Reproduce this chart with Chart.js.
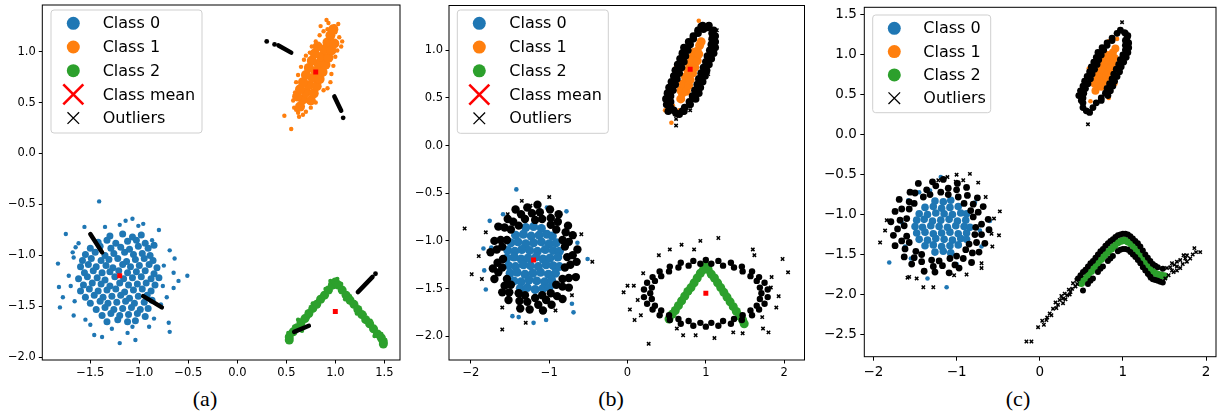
<!DOCTYPE html>
<html>
<head>
<meta charset="utf-8">
<script src="https://cdn.jsdelivr.net/npm/chart.js@4.4.1/dist/chart.umd.min.js"></script>
<style>
  body { margin: 0; background: #fff; width: 1225px; height: 416px; position: relative; overflow: hidden; }
  canvas { position: absolute; top: 0; }
  .cap { position: absolute; top: 388px; font: 22px "Liberation Serif", serif; line-height: 22px; transform: translateX(-50%); color: #000; }
</style>
</head>
<body>
<canvas id="panelA" width="405" height="382" style="left:0px"></canvas>
<canvas id="panelB" width="410" height="382" style="left:400px"></canvas>
<canvas id="panelC" width="415" height="382" style="left:810px"></canvas>
<div class="cap" style="left:205px">(a)</div>
<div class="cap" style="left:611px">(b)</div>
<div class="cap" style="left:1018px">(c)</div>
<script>
// colours and legend text
const classColors = ['#1f77b4', '#ff7f0e', '#2ca02c'];
const meanColor = '#ff0000';
const outlierColor = '#000000';
const legendLabelsAB = ['Class 0', 'Class 1', 'Class 2', 'Class mean', 'Outliers'];
const legendLabelsC = ['Class 0', 'Class 1', 'Class 2', 'Outliers'];

// axis ranges and ticks
const aXRange = [-1.99, 1.66], aYRange = [-2.026, 1.457];
const aXTicks = [-1.5, -1.0, -0.5, 0.0, 0.5, 1.0, 1.5];
const aYTicks = [-2.0, -1.5, -1.0, -0.5, 0.0, 0.5, 1.0];
const bXRange = [-2.28, 2.26], bYRange = [-2.25, 1.47];
const bXTicks = [-2, -1, 0, 1, 2];
const bYTicks = [-2.0, -1.5, -1.0, -0.5, 0.0, 0.5, 1.0];
const cXRange = [-2.11, 2.12], cYRange = [-2.78, 1.596];
const cXTicks = [-2, -1, 0, 1, 2];
const cYTicks = [-2.5, -2.0, -1.5, -1.0, -0.5, 0.0, 0.5, 1.0, 1.5];

// ---------- panel (a) ----------
const aBlueCore = [
  [-1.30,-0.81],[-1.17,-0.79],[-1.07,-0.82],[-0.98,-0.80],
  [-1.42,-0.87],[-1.33,-0.85],[-1.24,-0.88],[-1.12,-0.86],[-1.03,-0.85],[-0.94,-0.88],
  [-1.50,-0.93],[-1.40,-0.91],[-1.29,-0.93],[-1.19,-0.92],[-1.10,-0.94],[-1.01,-0.91],[-0.91,-0.93],[-0.85,-0.90],
  [-1.55,-0.99],[-1.45,-0.97],[-1.35,-1.00],[-1.26,-0.98],[-1.15,-0.97],[-1.06,-0.99],[-0.97,-0.98],[-0.89,-1.00],
  [-1.58,-1.05],[-1.49,-1.03],[-1.39,-1.05],[-1.31,-1.04],[-1.22,-1.03],[-1.13,-1.06],[-1.04,-1.04],[-0.95,-1.03],[-0.86,-1.05],
  [-1.60,-1.11],[-1.52,-1.09],[-1.44,-1.11],[-1.34,-1.10],[-1.27,-1.12],[-1.17,-1.09],[-1.09,-1.11],[-1.00,-1.10],[-0.90,-1.09],[-0.82,-1.12],
  [-1.56,-1.17],[-1.47,-1.15],[-1.38,-1.17],[-1.30,-1.16],[-1.21,-1.15],[-1.12,-1.17],[-1.03,-1.16],[-0.94,-1.15],[-0.85,-1.18],
  [-1.62,-1.23],[-1.53,-1.21],[-1.43,-1.22],[-1.35,-1.24],[-1.25,-1.21],[-1.16,-1.23],[-1.07,-1.22],[-0.98,-1.21],[-0.88,-1.23],[-0.80,-1.22],
  [-1.57,-1.29],[-1.48,-1.27],[-1.39,-1.28],[-1.30,-1.30],[-1.20,-1.27],[-1.11,-1.29],[-1.02,-1.28],[-0.93,-1.27],[-0.84,-1.29],
  [-1.60,-1.35],[-1.51,-1.33],[-1.42,-1.35],[-1.33,-1.34],[-1.24,-1.33],[-1.15,-1.36],[-1.06,-1.34],[-0.97,-1.33],[-0.88,-1.35],
  [-1.55,-1.41],[-1.46,-1.39],[-1.37,-1.41],[-1.28,-1.40],[-1.19,-1.39],[-1.10,-1.42],[-1.01,-1.40],[-0.92,-1.39],
  [-1.50,-1.47],[-1.40,-1.45],[-1.32,-1.47],[-1.23,-1.46],[-1.14,-1.45],[-1.05,-1.47],[-0.95,-1.46],[-0.87,-1.44],
  [-1.44,-1.53],[-1.35,-1.51],[-1.26,-1.53],[-1.17,-1.52],[-1.08,-1.51],[-0.99,-1.53],[-0.91,-1.52],
  [-1.38,-1.59],[-1.29,-1.57],[-1.20,-1.59],[-1.11,-1.58],[-1.02,-1.57],[-0.94,-1.60],
  [-1.33,-1.65],[-1.22,-1.63],[-1.12,-1.65],[-1.04,-1.64]
];
const aBlueSpread = [
  [-1.41,-0.47],[-1.75,-0.79],[-1.56,-0.72],[-1.83,-1.08],[-1.82,-1.31],[-1.81,-1.51],[-1.67,-1.59],[-1.46,-1.78],
  [-1.38,-1.80],[-1.20,-1.86],[-1.04,-1.83],[-1.07,-1.70],[-0.70,-1.66],[-0.69,-1.75],[-0.51,-1.20],[-0.60,-1.25],
  [-0.65,-1.32],[-0.65,-1.17],[-0.69,-0.95],[-0.87,-0.85],[-0.96,-0.69],[-1.07,-0.64],[-1.14,-0.66],[-1.20,-0.70],
  [-1.01,-0.71],[-1.67,-1.02],[-1.65,-0.92],[-1.68,-0.97],[-1.78,-1.41],[-1.70,-1.30],[-0.80,-0.75],[-0.72,-1.41],
  [-0.64,-1.03],[-1.72,-1.20],[-1.66,-1.45],[-1.55,-1.63],[-1.28,-1.72],[-0.85,-1.62],[-0.78,-1.48],[-0.75,-1.10],
  [-0.76,-1.30],[-1.62,-0.88],[-1.35,-0.72],[-1.50,-1.68],[-0.90,-1.70],[-1.12,-1.76]
];
const aOrangeCore = [
  [0.64,0.46],[0.67,0.53],[0.70,0.60],[0.73,0.67],[0.77,0.74],[0.80,0.81],[0.83,0.88],[0.86,0.95],[0.89,1.02],[0.92,1.09],[0.95,1.16],[0.98,1.22],
  [0.61,0.56],[0.64,0.63],[0.67,0.70],[0.70,0.77],[0.73,0.84],[0.76,0.91],[0.79,0.98],[0.82,1.05],
  [0.75,0.52],[0.78,0.59],[0.81,0.66],[0.84,0.73],[0.87,0.80],[0.90,0.87],[0.93,0.94],[0.96,1.01],[0.99,1.08]
];
const aOrangeSpread = [
  [0.91,1.31],[0.93,1.28],[0.99,1.25],[0.97,1.23],[1.00,1.19],[1.07,1.10],[1.04,1.14],[1.02,1.01],[1.00,0.95],[0.98,0.86],
  [0.96,0.78],[0.92,0.64],[0.88,0.62],[0.80,0.50],[0.75,0.45],[0.70,0.41],[0.67,0.38],[0.62,0.40],[0.58,0.45],[0.57,0.52],
  [0.59,0.60],[0.60,0.70],[0.62,0.77],[0.65,0.85],[0.68,0.92],[0.70,0.96],[0.74,0.99],[0.76,1.05],[0.80,1.10],[0.84,1.16],
  [0.88,1.20],[0.48,0.37],[0.55,0.24],[0.63,0.36],[0.92,1.22],[1.06,1.05],[0.95,0.70],[0.60,0.43],[0.85,1.25],[1.03,1.27]
];
const aGreenBand = [
  [0.53,-1.83],[0.53,-1.80],[0.57,-1.75],[0.61,-1.71],[0.65,-1.66],[0.69,-1.62],[0.73,-1.57],[0.77,-1.52],[0.81,-1.48],
  [0.85,-1.43],[0.89,-1.39],[0.93,-1.34],[0.97,-1.29],[1.00,-1.26],
  [1.03,-1.29],[1.07,-1.34],[1.11,-1.39],[1.15,-1.44],[1.19,-1.48],[1.23,-1.53],[1.27,-1.58],[1.31,-1.63],[1.35,-1.67],
  [1.39,-1.72],[1.43,-1.77],[1.47,-1.81],[1.49,-1.85],[1.49,-1.87]
];
const aGreenSpread = [
  [0.62,-1.63],[0.77,-1.47],[0.66,-1.74],[0.90,-1.33],[1.06,-1.28],[1.15,-1.40],[1.30,-1.58],[1.40,-1.79],[0.95,-1.25],[1.02,-1.23],
  [0.58,-1.70],[1.22,-1.57],[1.47,-1.77],[0.52,-1.76],[1.51,-1.83],[0.86,-1.40],[1.10,-1.43],[0.72,-1.61],[1.36,-1.64],[0.98,-1.31]
];
const aOutlierStrokes = [
  [[-1.50,-0.79],[-1.38,-0.97]],
  [[-0.96,-1.40],[-0.77,-1.51]],
  [[0.42,1.06],[0.55,0.99]],
  [[0.99,0.56],[1.06,0.42]],
  [[1.23,-1.36],[1.38,-1.21]],
  [[0.58,-1.75],[0.73,-1.69]]
];
const aOutlierDots = [[0.30,1.10],[0.38,1.07],[1.08,0.35],[1.41,-1.18]];
const aMeans = [[-1.2,-1.2],[0.8,0.8],[1.0,-1.55]];

// ---------- panel (b) ----------
const bBlueCore = [
  [-1.30,-0.86],[-1.20,-0.85],[-1.10,-0.87],
  [-1.43,-0.94],[-1.33,-0.93],[-1.23,-0.95],[-1.13,-0.94],[-1.03,-0.93],[-0.96,-0.95],
  [-1.49,-1.02],[-1.40,-1.01],[-1.30,-1.03],[-1.20,-1.02],[-1.10,-1.01],[-1.00,-1.03],[-0.91,-1.02],
  [-1.53,-1.10],[-1.44,-1.11],[-1.35,-1.09],[-1.25,-1.10],[-1.15,-1.11],[-1.05,-1.09],[-0.95,-1.10],[-0.87,-1.11],
  [-1.54,-1.18],[-1.45,-1.17],[-1.36,-1.19],[-1.27,-1.18],[-1.17,-1.17],[-1.08,-1.19],[-0.99,-1.18],[-0.89,-1.17],
  [-1.52,-1.26],[-1.43,-1.27],[-1.33,-1.25],[-1.24,-1.26],[-1.14,-1.27],[-1.04,-1.25],[-0.95,-1.26],[-0.87,-1.27],
  [-1.50,-1.34],[-1.41,-1.33],[-1.31,-1.35],[-1.21,-1.34],[-1.11,-1.33],[-1.01,-1.35],[-0.92,-1.34],
  [-1.45,-1.42],[-1.36,-1.43],[-1.26,-1.41],[-1.16,-1.42],[-1.06,-1.43],[-0.97,-1.41],
  [-1.37,-1.50],[-1.28,-1.49],[-1.18,-1.51],[-1.08,-1.50],[-1.00,-1.49]
];
const bBlueSpread = [
  [-1.42,-0.46],[-1.76,-0.79],[-1.84,-1.08],[-1.83,-1.31],[-1.81,-1.51],[-1.47,-1.79],[-1.39,-1.80],[-1.20,-1.86],
  [-1.04,-1.83],[-0.69,-1.75],[-0.71,-1.66],[-0.51,-1.19],[-0.64,-1.02],[-0.78,-0.69],[-1.03,-0.65],[-1.59,-0.72],[-1.74,-1.07]
];
const bBlueRing = [
  [-0.77,-1.17],[-0.80,-1.06],[-0.83,-0.99],[-0.91,-0.88],[-0.98,-0.83],[-1.09,-0.77],[-1.18,-0.78],[-1.31,-0.77],
  [-1.39,-0.84],[-1.49,-0.88],[-1.54,-0.99],[-1.60,-1.06],[-1.59,-1.19],[-1.60,-1.28],[-1.54,-1.40],[-1.49,-1.46],
  [-1.39,-1.55],[-1.31,-1.57],[-1.18,-1.60],[-1.09,-1.57],[-0.98,-1.55],[-0.91,-1.46],[-0.83,-1.40],[-0.80,-1.28],
  [-0.70,-1.15],[-0.75,-1.01],[-0.79,-0.91],[-0.89,-0.80],[-0.98,-0.76],[-1.12,-0.70],[-1.22,-0.71],[-1.36,-0.72],
  [-1.46,-0.80],[-1.57,-0.86],[-1.62,-0.99],[-1.67,-1.09],[-1.66,-1.23],[-1.65,-1.33],[-1.57,-1.47],[-1.51,-1.54],
  [-1.38,-1.63],[-1.28,-1.64],[-1.14,-1.67],[-1.04,-1.62],[-0.90,-1.58],[-0.83,-1.48],[-0.75,-1.39],[-0.73,-1.25],
  [-0.64,-1.09],[-0.70,-0.94],[-0.76,-0.84],[-0.88,-0.72],[-0.99,-0.67],[-1.15,-0.62],[-1.28,-0.65],[-1.43,-0.67],
  [-1.53,-0.77],[-1.65,-0.85],[-1.70,-1.00],[-1.75,-1.12],[-1.72,-1.29],[-1.70,-1.40],[-1.60,-1.54],[-1.52,-1.62],
  [-1.37,-1.71],[-1.25,-1.72],[-1.08,-1.73],[-0.97,-1.67],[-0.83,-1.61],[-0.75,-1.49],[-0.66,-1.38],[-0.65,-1.22]
];
const bOrangeCore = [
  [0.68,0.49],[0.70,0.55],[0.73,0.61],[0.75,0.67],[0.78,0.74],[0.81,0.80],[0.84,0.87],[0.86,0.93],[0.89,0.99],[0.92,1.05],[0.94,1.09],
  [0.68,0.58],[0.71,0.65],[0.74,0.72],[0.77,0.79],[0.79,0.86],[0.82,0.92],[0.85,0.98],
  [0.75,0.57],[0.78,0.63],[0.80,0.69],[0.83,0.76],[0.86,0.82],[0.89,0.89],[0.91,0.96]
];
const bOrangeSpread = [
  [0.91,1.31],[1.08,1.10],[0.92,0.65],[0.48,0.37],[0.56,0.24],[0.66,0.37],[0.62,0.83],[0.63,0.77],[1.10,1.18],[0.58,0.42]
];
const bOrangeRing = [
  [0.55,0.40],[0.73,0.40],[0.55,0.46],[0.79,0.46],[0.55,0.52],[0.83,0.52],[0.58,0.58],[0.86,0.58],[0.61,0.64],[0.89,0.64],
  [0.63,0.70],[0.91,0.70],[0.66,0.76],[0.94,0.76],[0.69,0.82],[0.97,0.82],[0.72,0.88],[1.00,0.88],[0.74,0.94],[1.02,0.94],
  [0.77,1.00],[1.05,1.00],[0.80,1.06],[1.07,1.06],[0.84,1.12],[1.08,1.12],[0.90,1.18],[1.08,1.18],
  [0.52,0.36],[0.72,0.36],[0.50,0.43],[0.80,0.43],[0.49,0.49],[0.87,0.49],[0.51,0.55],[0.91,0.55],[0.53,0.61],[0.93,0.61],
  [0.56,0.67],[0.96,0.67],[0.59,0.73],[0.99,0.73],[0.61,0.79],[1.01,0.79],[0.64,0.85],[1.04,0.85],[0.67,0.91],[1.07,0.91],
  [0.70,0.97],[1.10,0.97],[0.72,1.03],[1.12,1.03],[0.78,1.09],[1.12,1.09],[0.84,1.15],[1.12,1.15],[0.90,1.21],[1.10,1.21],
  [0.96,1.26],[1.04,1.26],[0.97,1.22],[1.02,1.24],[0.94,1.25],[0.62,0.34],[0.66,0.33],[0.59,0.37],[0.70,0.36]
];
const bGreenBand = [
  [0.53,-1.82],[0.57,-1.77],[0.61,-1.73],[0.65,-1.68],[0.69,-1.63],[0.73,-1.58],[0.77,-1.53],[0.81,-1.49],[0.85,-1.44],
  [0.89,-1.39],[0.93,-1.34],[0.97,-1.30],[1.00,-1.26],
  [1.03,-1.30],[1.07,-1.35],[1.11,-1.39],[1.15,-1.44],[1.19,-1.49],[1.23,-1.54],[1.27,-1.59],[1.31,-1.64],[1.35,-1.69],
  [1.39,-1.74],[1.43,-1.79],[1.47,-1.83],[1.49,-1.87]
];
const bGreenRing = [
  [1.71,-1.55],[1.69,-1.49],[1.65,-1.42],[1.57,-1.37],[1.47,-1.32],[1.36,-1.28],[1.22,-1.26],[1.07,-1.24],[0.93,-1.24],
  [0.78,-1.26],[0.65,-1.28],[0.53,-1.32],[0.43,-1.37],[0.35,-1.42],[0.31,-1.49],[0.29,-1.55],[0.31,-1.61],[0.35,-1.68],
  [0.43,-1.73],[0.53,-1.78],[0.65,-1.82],[0.78,-1.84],[0.93,-1.86],[1.07,-1.86],[1.22,-1.84],[1.36,-1.82],[1.47,-1.78],
  [1.57,-1.73],[1.65,-1.68],[1.69,-1.61],
  [1.79,-1.51],[1.75,-1.44],[1.68,-1.38],[1.59,-1.32],[1.46,-1.27],[1.32,-1.23],[1.16,-1.21],[1.00,-1.20],[0.84,-1.21],
  [0.68,-1.23],[0.54,-1.27],[0.41,-1.32],[0.32,-1.38],[0.25,-1.44],[0.21,-1.51],[0.21,-1.59],[0.25,-1.66],[0.32,-1.72],
  [0.41,-1.78],[0.54,-1.83],[0.68,-1.87],[0.84,-1.89],[1.00,-1.90],[1.16,-1.89],[1.32,-1.87],[1.46,-1.83],[1.59,-1.78],
  [1.68,-1.72],[1.75,-1.66],[1.79,-1.59]
];
const bOutlierSpread = [
  [-2.08,-0.87],[-1.99,-1.35],[-1.60,-1.93],[-1.00,-0.54],[-0.45,-1.22],[-1.86,-1.40],[-1.90,-1.16],[-1.81,-0.91],
  [-0.59,-0.93],[-0.71,-1.57],[-1.30,-1.86],[-1.60,-1.70],[-0.92,-1.73],[-1.24,-0.63],[-1.35,-0.58],[-1.53,-0.72],
  [0.93,-1.00],[1.16,-0.97],[0.69,-1.04],[0.54,-1.09],[0.85,-1.09],[1.60,-1.09],[1.98,-1.19],[2.05,-1.33],[1.84,-1.38],
  [1.93,-1.58],[1.83,-1.49],[1.72,-1.80],[1.80,-1.96],[1.73,-1.92],[0.27,-2.08],[0.09,-1.83],[0.03,-1.72],[-0.05,-1.54],
  [0.00,-1.47],[0.08,-1.47],[0.20,-1.34],[0.17,-1.78],[1.11,-2.02],[0.87,-1.99],[0.71,-1.99],[1.47,-1.97],[0.63,-1.92],
  [1.35,-1.96],[0.13,-1.62],[1.90,-1.70],[1.62,-1.15],[0.40,-1.15],
  [0.62,0.28],[0.62,0.21],[1.14,1.21],[1.06,1.10],[1.03,0.75],[0.80,0.37],[0.72,0.35]
];
const bMeans = [[-1.2,-1.2],[0.8,0.8],[1.0,-1.55]];

// ---------- panel (c) ----------
const cBlueCore = [
  [-1.26,-0.83],[-1.16,-0.84],[-1.07,-0.82],
  [-1.38,-0.91],[-1.28,-0.90],[-1.18,-0.92],[-1.08,-0.91],[-0.98,-0.90],
  [-1.45,-0.99],[-1.35,-1.00],[-1.25,-0.98],[-1.15,-0.99],[-1.05,-1.00],[-0.95,-0.98],[-0.88,-0.99],
  [-1.48,-1.07],[-1.39,-1.06],[-1.29,-1.08],[-1.19,-1.07],[-1.09,-1.06],[-0.99,-1.08],[-0.89,-1.07],
  [-1.50,-1.15],[-1.41,-1.16],[-1.31,-1.14],[-1.21,-1.15],[-1.11,-1.16],[-1.01,-1.14],[-0.91,-1.15],[-0.84,-1.16],
  [-1.48,-1.23],[-1.38,-1.22],[-1.28,-1.24],[-1.18,-1.23],[-1.08,-1.22],[-0.98,-1.24],[-0.88,-1.23],
  [-1.45,-1.31],[-1.35,-1.32],[-1.25,-1.30],[-1.15,-1.31],[-1.05,-1.32],[-0.95,-1.30],[-0.88,-1.31],
  [-1.38,-1.39],[-1.28,-1.38],[-1.18,-1.40],[-1.08,-1.39],[-0.98,-1.38],
  [-1.26,-1.47],[-1.16,-1.46],[-1.07,-1.48]
];
const cBlueSpread = [
  [-1.81,-1.60],[-1.19,-0.53],[-1.35,-1.80],[-0.60,-1.08],[-1.12,-1.91],[-1.45,-0.72],[-1.58,-0.82],[-0.72,-1.20],
  [-1.62,-1.40],[-0.78,-0.85],[-1.55,-1.55],[-1.00,-1.62],[-1.32,-0.70],[-1.66,-1.10],[-0.70,-1.40]
];
const cBlueRing = [
  [-0.77,-1.16],[-0.80,-1.03],[-0.83,-0.95],[-0.91,-0.86],[-0.98,-0.78],[-1.10,-0.75],[-1.19,-0.72],[-1.32,-0.75],
  [-1.40,-0.78],[-1.51,-0.86],[-1.57,-0.93],[-1.60,-1.05],[-1.63,-1.14],[-1.60,-1.27],[-1.57,-1.35],[-1.49,-1.46],
  [-1.42,-1.50],[-1.30,-1.57],[-1.21,-1.58],[-1.08,-1.55],[-1.00,-1.52],[-0.89,-1.44],[-0.85,-1.37],[-0.78,-1.25],
  [-0.70,-1.12],[-0.74,-0.97],[-0.80,-0.87],[-0.87,-0.76],[-1.00,-0.69],[-1.10,-0.67],[-1.25,-0.64],[-1.36,-0.69],
  [-1.50,-0.73],[-1.57,-0.84],[-1.66,-0.93],[-1.68,-1.07],[-1.71,-1.18],[-1.66,-1.33],[-1.62,-1.43],[-1.51,-1.54],
  [-1.42,-1.59],[-1.28,-1.65],[-1.17,-1.64],[-1.02,-1.63],[-0.92,-1.55],[-0.81,-1.48],[-0.76,-1.35],[-0.70,-1.25],
  [-0.62,-1.06],[-0.68,-0.90],[-0.75,-0.79],[-0.88,-0.66],[-0.99,-0.61],[-1.16,-0.56],[-1.29,-0.59],[-1.46,-0.61],
  [-1.56,-0.72],[-1.69,-0.81],[-1.74,-0.96],[-1.79,-1.09],[-1.76,-1.26],[-1.74,-1.39],[-1.63,-1.53],[-1.54,-1.62],
  [-1.39,-1.71],[-1.26,-1.72],[-1.09,-1.73],[-0.97,-1.67],[-0.82,-1.60],[-0.73,-1.47],[-0.66,-1.36],[-0.61,-1.19]
];
const cOrangeCore = [
  [0.67,0.55],[0.70,0.61],[0.72,0.67],[0.75,0.73],[0.78,0.79],[0.80,0.85],[0.83,0.91],[0.86,0.97],[0.88,1.03],[0.91,1.08],
  [0.66,0.64],[0.69,0.70],[0.71,0.76],[0.74,0.82],[0.77,0.88],[0.79,0.94],[0.82,1.00],
  [0.74,0.60],[0.77,0.66],[0.80,0.72],[0.82,0.78],[0.85,0.84],[0.88,0.90],[0.90,0.96]
];
const cOrangeSpread = [
  [0.83,1.17],[1.05,1.08],[0.59,0.83],[0.91,0.64],[0.83,0.46],[0.61,0.42],[0.93,1.20],[0.55,0.60]
];
const cOrangeRing = [
  [0.52,0.40],[0.68,0.40],[0.52,0.46],[0.74,0.46],[0.53,0.52],[0.79,0.52],[0.55,0.58],[0.81,0.58],[0.58,0.64],[0.84,0.64],
  [0.61,0.70],[0.87,0.70],[0.63,0.76],[0.89,0.76],[0.66,0.82],[0.92,0.82],[0.69,0.88],[0.95,0.88],[0.71,0.94],[0.97,0.94],
  [0.74,1.00],[1.00,1.00],[0.77,1.06],[1.03,1.06],[0.81,1.12],[1.03,1.12],[0.87,1.18],[1.03,1.18],
  [0.52,0.34],[0.64,0.34],[0.50,0.43],[0.74,0.43],[0.47,0.49],[0.82,0.49],[0.49,0.55],[0.85,0.55],[0.52,0.61],[0.88,0.61],
  [0.54,0.67],[0.90,0.67],[0.57,0.73],[0.93,0.73],[0.60,0.79],[0.96,0.79],[0.62,0.85],[0.98,0.85],[0.65,0.91],[1.01,0.91],
  [0.68,0.97],[1.04,0.97],[0.70,1.03],[1.06,1.03],[0.75,1.09],[1.07,1.09],[0.81,1.15],[1.07,1.15],[0.87,1.21],[1.05,1.21],
  [0.93,1.27],[1.03,1.27],[0.97,1.31],[1.02,1.28],[1.06,1.24],[0.56,0.30],[0.60,0.28]
];
const cGreenBand = [
  [0.50,-1.86],[0.54,-1.81],[0.58,-1.76],[0.62,-1.71],[0.66,-1.66],[0.70,-1.61],[0.74,-1.56],[0.78,-1.51],[0.82,-1.47],
  [0.86,-1.43],[0.90,-1.39],[0.94,-1.35],[0.98,-1.33],[1.02,-1.32],[1.06,-1.34],[1.10,-1.37],[1.14,-1.42],[1.18,-1.47],
  [1.22,-1.53],[1.26,-1.59],[1.30,-1.65],[1.34,-1.70],[1.38,-1.73],[1.42,-1.75],[1.46,-1.76],[1.50,-1.77]
];
const cGreenEdge = [
  [0.46,-1.80],[0.49,-1.76],[0.52,-1.72],[0.55,-1.69],[0.58,-1.65],[0.61,-1.61],[0.64,-1.58],[0.67,-1.54],[0.70,-1.50],
  [0.73,-1.46],[0.76,-1.43],[0.79,-1.39],[0.82,-1.36],[0.85,-1.33],[0.88,-1.31],[0.91,-1.28],[0.94,-1.26],[0.97,-1.25],
  [1.00,-1.24],[1.03,-1.24],[1.06,-1.25],[1.09,-1.27],[1.12,-1.30],[1.15,-1.33],[1.18,-1.36],[1.21,-1.40],[1.24,-1.45],
  [1.27,-1.50],[1.30,-1.54],[1.33,-1.58],[1.36,-1.62],[1.39,-1.64],[1.42,-1.66],[1.48,-1.68],
  [0.52,-1.95],[0.58,-1.87],[0.61,-1.83],[0.64,-1.80],[0.70,-1.72],[0.73,-1.68],[0.76,-1.65],[0.82,-1.58],[0.85,-1.55],
  [0.88,-1.52],[0.94,-1.46],[0.97,-1.44],[1.00,-1.43],[1.03,-1.43],[1.06,-1.44],[1.09,-1.47],[1.12,-1.50],[1.15,-1.53],
  [1.18,-1.57],[1.21,-1.61],[1.24,-1.66],[1.27,-1.70],[1.30,-1.74],[1.33,-1.78],[1.36,-1.81],[1.39,-1.82],[1.42,-1.83],
  [1.45,-1.84],[1.48,-1.85]
];
const cOutlierSpread = [
  [-1.84,-1.07],[-1.92,-1.35],[-0.48,-0.96],[-0.49,-1.26],[-1.00,-0.50],[-0.84,-0.49],[-0.74,-0.60],[-1.28,-1.91],
  [-1.40,-1.91],[-1.57,-1.78],[-0.70,-1.67],[-1.03,-1.76],[-0.58,-1.24],[-0.70,-1.61],[-1.59,-1.79],[-0.57,-1.40],
  [-1.01,-0.59],[-0.92,-0.57],[-1.22,-0.57],[-1.11,-0.53],[-0.55,-1.05],[-1.86,-1.20],[-0.65,-0.78],[-1.48,-1.80],[-0.88,-1.75],
  [0.99,1.41],[0.58,0.13],
  [-0.16,-2.59],[-0.10,-2.59],[-0.02,-2.41],[0.05,-2.38],[0.08,-2.32],[0.14,-2.26],[0.16,-2.18],[0.22,-2.13],[0.24,-2.07],
  [0.28,-2.05],[0.33,-2.01],[0.39,-1.93],[0.37,-1.97],[0.43,-1.90],[0.28,-2.11],[0.20,-2.17],[0.12,-2.24],[0.40,-1.86],
  [0.44,-1.82],[0.50,-1.76],[0.54,-1.71],[0.03,-2.33],[0.09,-2.29],[0.30,-1.99],[0.35,-1.94],[0.26,-2.02],[0.19,-2.10],
  [0.31,-2.06],[0.45,-1.87],[0.36,-2.00],
  [1.53,-1.67],[1.59,-1.61],[1.65,-1.59],[1.69,-1.57],[1.73,-1.51],[1.77,-1.51],[1.86,-1.42],[1.93,-1.47],[1.88,-1.47],
  [1.61,-1.72],[1.55,-1.76],[1.65,-1.70],[1.69,-1.67],[1.77,-1.59],[1.81,-1.55],[1.65,-1.65],[1.59,-1.70],[1.51,-1.80],
  [1.33,-1.80],[1.31,-1.76],[1.57,-1.66],[1.62,-1.63],[1.72,-1.62],[1.75,-1.55],[1.84,-1.50]
];

// ---------- helpers ----------
const pts = arr => arr.map(p => ({ x: p[0], y: p[1] }));

function dots(arr, color, r, order = 3) {
  return { data: pts(arr), backgroundColor: color, borderColor: color, borderWidth: 0, pointRadius: r, order: order };
}
function crosses(arr) {
  return { data: pts(arr), pointStyle: 'crossRot', borderColor: outlierColor, backgroundColor: outlierColor,
    borderWidth: 1.5, pointRadius: 2.4, order: 2 };
}
function stroke(arr) {
  return { data: pts(arr), showLine: true, borderColor: outlierColor, borderWidth: 4.5, borderCapStyle: 'round',
    pointRadius: 0, order: 2 };
}
function meanMarks(arr) {
  return { data: pts(arr), pointStyle: 'rect', backgroundColor: meanColor, borderWidth: 0, pointRadius: 3.5, order: 1 };
}

function fmt(v, dec) {
  return (v < 0 ? '\u2212' : '') + Math.abs(v).toFixed(dec);
}

function axis(range, ticks, dec, thickness, fontSize, tickLen, pad) {
  return {
    type: 'linear', min: range[0], max: range[1],
    afterBuildTicks: s => { s.ticks = ticks.map(v => ({ value: v })); },
    afterFit: s => {
      if (s.isHorizontal()) { s.height = thickness; s.paddingLeft = 0; s.paddingRight = 0; }
      else { s.width = thickness; s.paddingTop = 0; s.paddingBottom = 0; }
    },
    border: { display: false },
    grid: { drawOnChartArea: false, color: '#000', lineWidth: 1, tickLength: tickLen },
    ticks: { color: '#000', padding: pad, autoSkip: false, maxRotation: 0,
      font: { family: 'DejaVu Sans', size: fontSize }, callback: v => fmt(v, dec) }
  };
}

// full box around the plot area
const frame = {
  id: 'frame',
  afterDatasetsDraw(chart) {
    const { ctx, chartArea: a } = chart;
    ctx.save();
    ctx.strokeStyle = '#000';
    ctx.lineWidth = 1;
    ctx.strokeRect(a.left, a.top, a.right - a.left, a.bottom - a.top);
    ctx.restore();
  }
};

// legend drawn inside the axes, like the matplotlib one
function legendBox(cfg) {
  return {
    id: 'legendBox',
    afterDraw(chart) {
      const ctx = chart.ctx;
      ctx.save();
      ctx.beginPath();
      ctx.roundRect(cfg.box[0], cfg.box[1], cfg.box[2], cfg.box[3], 3);
      ctx.fillStyle = 'rgba(255,255,255,0.85)';
      ctx.fill();
      ctx.strokeStyle = '#cfcfcf';
      ctx.lineWidth = 1;
      ctx.stroke();
      ctx.font = '16px "DejaVu Sans"';
      ctx.textBaseline = 'middle';
      cfg.labels.forEach((label, i) => {
        const x = cfg.markerX, y = cfg.rowY + i * cfg.step;
        if (i < 3) {
          ctx.beginPath();
          ctx.arc(x, y, 6.5, 0, Math.PI * 2);
          ctx.fillStyle = classColors[i];
          ctx.fill();
        } else {
          const big = label === 'Class mean';
          const h = big ? 10 : 5.8;
          ctx.beginPath();
          ctx.moveTo(x - h, y - h); ctx.lineTo(x + h, y + h);
          ctx.moveTo(x - h, y + h); ctx.lineTo(x + h, y - h);
          ctx.strokeStyle = big ? meanColor : outlierColor;
          ctx.lineWidth = big ? 2.6 : 1.3;
          ctx.stroke();
        }
        ctx.fillStyle = '#000';
        ctx.fillText(label, cfg.textX, y + 1);
      });
      ctx.restore();
    }
  };
}

function makeChart(id, datasets, scales, padding, legendCfg) {
  return new Chart(document.getElementById(id), {
    type: 'scatter',
    data: { datasets: datasets },
    options: {
      responsive: false,
      animation: false,
      events: [],
      layout: { padding: padding },
      scales: scales,
      plugins: { legend: { display: false }, tooltip: { enabled: false } }
    },
    plugins: [frame, legendBox(legendCfg)]
  });
}

// panel (a)
makeChart('panelA', [
  meanMarks(aMeans),
  ...aOutlierStrokes.map(stroke),
  dots(aOutlierDots, outlierColor, 2.4, 2),
  dots(aBlueCore, classColors[0], 3.5),
  dots(aBlueSpread, classColors[0], 2.2),
  dots(aOrangeCore, classColors[1], 5),
  dots(aOrangeSpread, classColors[1], 2.2),
  dots(aGreenBand, classColors[2], 4.5),
  dots(aGreenSpread, classColors[2], 2.2)
], {
  x: axis(aXRange, aXTicks, 1, 22, 11.5, 3.5, 3),
  y: axis(aYRange, aYTicks, 1, 42.3, 11.5, 3.5, 3)
}, { left: 0, top: 2.3, right: 2, bottom: 0 },
{ box: [51, 10, 151, 123], markerX: 73.3, textX: 102.7, rowY: 23.3, step: 23.7, labels: legendLabelsAB });

// panel (b)
makeChart('panelB', [
  meanMarks(bMeans),
  dots(bBlueRing, outlierColor, 4.2, 2),
  dots(bOrangeRing, outlierColor, 3.8, 2),
  dots(bGreenRing, outlierColor, 3.2, 2),
  crosses(bOutlierSpread),
  dots(bBlueCore, classColors[0], 4.5),
  dots(bBlueSpread, classColors[0], 2.3),
  dots(bOrangeCore, classColors[1], 4.5),
  dots(bOrangeSpread, classColors[1], 2.3),
  dots(bGreenBand, classColors[2], 4.5)
], {
  x: axis(bXRange, bXTicks, 0, 22, 11.5, 3.5, 3),
  y: axis(bYRange, bYTicks, 1, 49, 11.5, 3.5, 2.5)
}, { left: 0, top: 2.3, right: 1, bottom: 0 },
{ box: [57.3, 10, 151, 123.3], markerX: 79.3, textX: 109.3, rowY: 23.3, step: 23.75, labels: legendLabelsAB });

// panel (c)
makeChart('panelC', [
  dots(cBlueRing, outlierColor, 3.4, 2),
  dots(cOrangeRing, outlierColor, 3.4, 2),
  dots(cGreenEdge, outlierColor, 3, 2),
  crosses(cOutlierSpread),
  dots(cBlueCore, classColors[0], 3.8),
  dots(cBlueSpread, classColors[0], 2.3),
  dots(cOrangeCore, classColors[1], 4),
  dots(cOrangeSpread, classColors[1], 2.3),
  dots(cGreenBand, classColors[2], 3.8)
], {
  x: axis(cXRange, cXTicks, 0, 25.3, 13.5, 4, 3.5),
  y: axis(cYRange, cYTicks, 1, 54.3, 13.5, 4, 3.5)
}, { left: 0, top: 7.3, right: 9, bottom: 0 },
{ box: [62.7, 15, 118, 97.7], markerX: 84.3, textX: 113.3, rowY: 28.3, step: 23.3, labels: legendLabelsC });
</script>
</body>
</html>
